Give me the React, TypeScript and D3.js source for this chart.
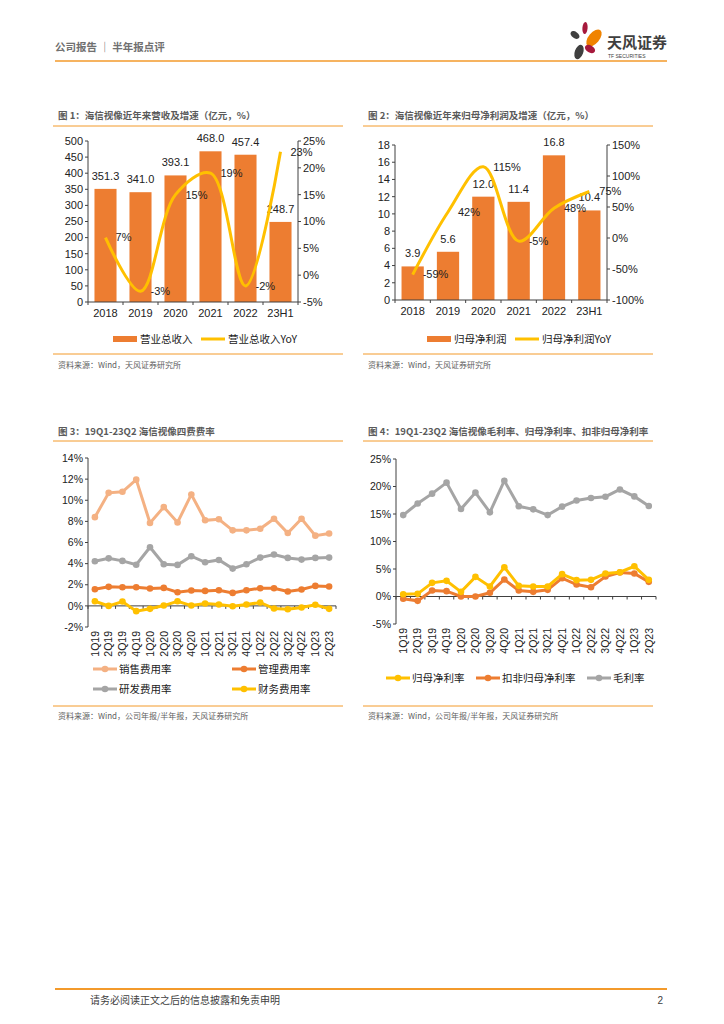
import * as d3 from 'd3';

// 图1 / 图2
const years = ['2018', '2019', '2020', '2021', '2022', '23H1'];
const revenue = [351.3, 341.0, 393.1, 468.0, 457.4, 248.7];
const revenueYoY = [7, -3, 15, 19, -2, 23];
const netProfit = [3.9, 5.6, 12.0, 11.4, 16.8, 10.4];
const netProfitYoY = [-59, 42, 115, -5, 48, 75];

// 图3 / 图4
const quarters = ['1Q19', '2Q19', '3Q19', '4Q19', '1Q20', '2Q20', '3Q20', '4Q20', '1Q21', '2Q21', '3Q21', '4Q21', '1Q22', '2Q22', '3Q22', '4Q22', '1Q23', '2Q23'];
const salesRate = [8.4, 10.7, 10.8, 11.95, 7.85, 9.35, 7.9, 10.55, 8.1, 8.2, 7.15, 7.15, 7.3, 8.25, 6.9, 8.25, 6.65, 6.85];
const mgmtRate = [1.58, 1.8, 1.77, 1.77, 1.64, 1.7, 1.29, 1.45, 1.42, 1.48, 1.23, 1.48, 1.67, 1.67, 1.36, 1.55, 1.89, 1.83];
const rdRate = [4.23, 4.5, 4.26, 3.9, 5.55, 3.94, 3.88, 4.7, 4.13, 4.35, 3.53, 3.94, 4.57, 4.86, 4.54, 4.38, 4.54, 4.57];
const finRate = [0.44, 0.0, 0.41, -0.5, -0.28, 0.03, 0.44, 0.03, 0.22, 0.13, -0.03, 0.13, 0.32, -0.25, -0.32, -0.16, 0.1, -0.28];
const grossMargin = [14.8, 16.9, 18.7, 20.7, 15.9, 18.9, 15.3, 21.05, 16.4, 15.85, 14.8, 16.35, 17.45, 17.9, 18.15, 19.45, 18.2, 16.45];
const netMargin = [0.42, 0.48, 2.48, 2.85, 0.85, 3.57, 1.82, 5.33, 1.94, 1.82, 1.82, 4.06, 2.97, 3.03, 4.18, 4.42, 5.5, 3.03];
const deductedMargin = [-0.42, -0.79, 1.09, 0.97, 0.0, 0.0, 0.67, 3.09, 1.09, 0.85, 1.21, 3.33, 2.18, 1.69, 3.63, 4.36, 4.18, 2.66];

const ORANGE = '#ED7D31';
const YELLOW = '#FFC000';
const SALMON = '#F4B183';
const GRAY = '#A5A5A5';
const RULE = '#F39A2B';
const FONT = '"Liberation Sans", "Noto Sans CJK SC", sans-serif';
const CJK = '"Noto Sans CJK SC", "Liberation Sans", sans-serif';

interface ComboProps {
  x0: number;
  title: string;
  left: number; right: number; top: number; bottom: number;
  bars: number[]; line: number[];
  leftDomain: [number, number]; leftStep: number;
  rightDomain: [number, number]; rightStep: number;
  barName: string; lineName: string;
  legendX: number;
}

function ComboChart(p: ComboProps) {
  const x = d3.scaleBand<string>().domain(years).range([p.left, p.right]).paddingInner(0.37).paddingOuter(0.185);
  const yL = d3.scaleLinear().domain(p.leftDomain).range([p.bottom, p.top]);
  const yR = d3.scaleLinear().domain(p.rightDomain).range([p.bottom, p.top]);
  const leftTicks = d3.range(p.leftDomain[0], p.leftDomain[1] + 0.001, p.leftStep);
  const rightTicks = d3.range(p.rightDomain[0], p.rightDomain[1] + 0.001, p.rightStep);
  const cx = (d: string) => (x(d) ?? 0) + x.bandwidth() / 2;
  const pts: [number, number][] = p.line.map((v, i) => [cx(years[i]), yR(v)]);
  const path = d3.line().curve(d3.curveCatmullRom.alpha(0.5))(pts) ?? '';
  const step = x.step();
  return (
    <g fontFamily={FONT}>
      <text x={p.x0 + 5} y={119} fontSize={9.5} fontWeight="bold" fill="#5a5a5a" fontFamily={CJK}>{p.title}</text>
      <line x1={p.x0} x2={p.x0 + 290} y1={126} y2={126} stroke={RULE} strokeWidth={1} />
      {/* bars */}
      {p.bars.map((v, i) => (
        <rect key={i} x={x(years[i])} y={yL(v)} width={x.bandwidth()} height={yL(0) - yL(v)} fill={ORANGE} />
      ))}
      {/* left axis */}
      <line x1={p.left} x2={p.left} y1={p.top} y2={p.bottom} stroke="#404040" />
      {leftTicks.map(t => (
        <g key={t}>
          <line x1={p.left - 3} x2={p.left} y1={yL(t)} y2={yL(t)} stroke="#404040" />
          <text x={p.left - 5} y={yL(t)} dy="0.35em" textAnchor="end" fontSize={11} fill="#222">{t}</text>
        </g>
      ))}
      {/* right axis */}
      <line x1={p.right} x2={p.right} y1={p.top} y2={p.bottom} stroke="#404040" />
      {rightTicks.map(t => (
        <g key={t}>
          <line x1={p.right} x2={p.right + 3} y1={yR(t)} y2={yR(t)} stroke="#404040" />
          <text x={p.right + 5} y={yR(t)} dy="0.35em" fontSize={11} fill="#222">{t}%</text>
        </g>
      ))}
      {/* bottom axis */}
      <line x1={p.left} x2={p.right} y1={p.bottom} y2={p.bottom} stroke="#404040" />
      {d3.range(years.length + 1).map(i => (
        <line key={i} x1={p.left + i * step} x2={p.left + i * step} y1={p.bottom} y2={p.bottom + 3} stroke="#404040" />
      ))}
      {years.map(d => (
        <text key={d} x={cx(d)} y={p.bottom + 15} textAnchor="middle" fontSize={11} fill="#222">{d}</text>
      ))}
      {/* bar labels */}
      {p.bars.map((v, i) => (
        <text key={i} x={cx(years[i])} y={yL(v) - 9} textAnchor="middle" fontSize={11} fill="#222">{v.toFixed(1)}</text>
      ))}
      {/* yoy line */}
      <path d={path} fill="none" stroke={YELLOW} strokeWidth={3} />
      {p.line.map((v, i) => (
        <text key={i} x={cx(years[i]) + 10} y={yR(v)} dy="0.35em" fontSize={11} fill="#222">{v}%</text>
      ))}
      {/* legend */}
      <rect x={p.legendX} y={336} width={24} height={6} fill={ORANGE} />
      <text x={p.legendX + 27} y={339} dy="0.35em" fontSize={10.5} fill="#222" fontFamily={CJK}>{p.barName}</text>
      <line x1={p.legendX + 88} x2={p.legendX + 112} y1={339} y2={339} stroke={YELLOW} strokeWidth={3} />
      <text x={p.legendX + 115} y={339} dy="0.35em" fontSize={10.5} fill="#222" fontFamily={CJK}>{p.lineName}</text>
      <line x1={p.x0} x2={p.x0 + 290} y1={354} y2={354} stroke={RULE} strokeWidth={1} />
      <text x={p.x0 + 5} y={368} fontSize={8} fill="#606060" fontFamily={CJK}>资料来源：Wind，天风证券研究所</text>
    </g>
  );
}

interface Series { name: string; values: number[]; color: string; lx: number; ly: number }

interface LineProps {
  x0: number;
  title: string;
  left: number; right: number; top: number; bottom: number;
  domain: [number, number]; step: number;
  series: Series[];
  source: string;
}

function LineChart(p: LineProps) {
  const x = d3.scaleBand<string>().domain(quarters).range([p.left, p.right]);
  const y = d3.scaleLinear().domain(p.domain).range([p.bottom, p.top]);
  const ticks = d3.range(p.domain[0], p.domain[1] + 0.001, p.step);
  const cx = (d: string) => (x(d) ?? 0) + x.bandwidth() / 2;
  const line = d3.line<number>().x((_, i) => cx(quarters[i])).y(v => y(v));
  const y0 = y(0);
  return (
    <g fontFamily={FONT}>
      <text x={p.x0 + 5} y={435} fontSize={9.5} fontWeight="bold" fill="#5a5a5a" fontFamily={CJK}>{p.title}</text>
      <line x1={p.x0} x2={p.x0 + 290} y1={441} y2={441} stroke={RULE} strokeWidth={1} />
      <line x1={p.left} x2={p.left} y1={p.top} y2={p.bottom} stroke="#404040" />
      {ticks.map(t => (
        <g key={t}>
          <line x1={p.left - 3} x2={p.left} y1={y(t)} y2={y(t)} stroke="#404040" />
          <text x={p.left - 5} y={y(t)} dy="0.35em" textAnchor="end" fontSize={10.5} fill="#222">{t}%</text>
        </g>
      ))}
      <line x1={p.left} x2={p.right} y1={y0} y2={y0} stroke="#404040" />
      {d3.range(quarters.length + 1).map(i => (
        <line key={i} x1={p.left + i * x.step()} x2={p.left + i * x.step()} y1={y0} y2={y0 + 3} stroke="#404040" />
      ))}
      {quarters.map(q => (
        <text key={q} transform={`translate(${cx(q) + 3.8},${p.bottom + 4}) rotate(-90)`} textAnchor="end" fontSize={10.5} fill="#222">{q}</text>
      ))}
      {p.series.map(s => (
        <g key={s.name}>
          <path d={line(s.values) ?? ''} fill="none" stroke={s.color} strokeWidth={3} />
          {s.values.map((v, i) => (
            <circle key={i} cx={cx(quarters[i])} cy={y(v)} r={3.3} fill={s.color} />
          ))}
          <line x1={s.lx} x2={s.lx + 24} y1={s.ly} y2={s.ly} stroke={s.color} strokeWidth={3} />
          <circle cx={s.lx + 12} cy={s.ly} r={3.3} fill={s.color} />
          <text x={s.lx + 26} y={s.ly} dy="0.35em" fontSize={10.5} fill="#222" fontFamily={CJK}>{s.name}</text>
        </g>
      ))}
      <line x1={p.x0} x2={p.x0 + 290} y1={706} y2={706} stroke={RULE} strokeWidth={1} />
      <text x={p.x0 + 5} y={719} fontSize={8} fill="#606060" fontFamily={CJK}>{p.source}</text>
    </g>
  );
}

function Logo() {
  return (
    <g>
      <ellipse cx={585} cy={28} rx={2.6} ry={6} fill="#A6193C" transform="rotate(5 585 28)" />
      <ellipse cx={575} cy={35} rx={5} ry={3.2} fill="#3F3F3F" transform="rotate(35 575 35)" />
      <ellipse cx={594} cy={38} rx={5.5} ry={10} fill="#F08300" transform="rotate(40 594 38)" />
      <ellipse cx={579} cy={52} rx={4.2} ry={7.5} fill="#3F3F3F" transform="rotate(20 579 52)" />
      <ellipse cx={590} cy={49} rx={5.5} ry={3.6} fill="#A6193C" transform="rotate(30 590 49)" />
      <text x={607} y={48} fontSize={15} fontWeight="bold" fill="#3F3F3F" fontFamily={CJK}>天风证券</text>
      <text x={608} y={58} fontSize={5} fill="#3F3F3F" fontFamily={FONT}>TF SECURITIES</text>
    </g>
  );
}

export default function App() {
  return (
    <svg width={724} height={1024} style={{ position: 'absolute', left: 0, top: 0, background: '#fff' }}>
      <text x={55} y={51} fontSize={10.5} fill="#707070" fontFamily={CJK} fontWeight="bold">公司报告 ｜ 半年报点评</text>
      <Logo />
      <line x1={55} x2={667} y1={61} y2={61} stroke={RULE} strokeWidth={1.5} />

      <ComboChart x0={53} title="图 1：海信视像近年来营收及增速（亿元，%）"
        left={88} right={298} top={141} bottom={302}
        bars={revenue} line={revenueYoY}
        leftDomain={[0, 500]} leftStep={50} rightDomain={[-5, 25]} rightStep={5}
        barName="营业总收入" lineName="营业总收入YoY" legendX={113} />
      <ComboChart x0={363} title="图 2：海信视像近年来归母净利润及增速（亿元，%）"
        left={395} right={607} top={145} bottom={300}
        bars={netProfit} line={netProfitYoY}
        leftDomain={[0, 18]} leftStep={2} rightDomain={[-100, 150]} rightStep={50}
        barName="归母净利润" lineName="归母净利润YoY" legendX={427} />

      <LineChart x0={53} title="图 3：19Q1-23Q2 海信视像四费费率"
        left={88} right={336} top={458} bottom={627}
        domain={[-2, 14]} step={2}
        series={[
          { name: '销售费用率', values: salesRate, color: SALMON, lx: 93, ly: 669 },
          { name: '管理费用率', values: mgmtRate, color: ORANGE, lx: 232, ly: 669 },
          { name: '研发费用率', values: rdRate, color: GRAY, lx: 93, ly: 689 },
          { name: '财务费用率', values: finRate, color: YELLOW, lx: 232, ly: 689 },
        ]}
        source="资料来源：Wind，公司年报/半年报，天风证券研究所" />
      <LineChart x0={363} title="图 4：19Q1-23Q2 海信视像毛利率、归母净利率、扣非归母净利率"
        left={396} right={656} top={459} bottom={624}
        domain={[-5, 25]} step={5}
        series={[
          { name: '毛利率', values: grossMargin, color: GRAY, lx: 587, ly: 678 },
          { name: '扣非归母净利率', values: deductedMargin, color: ORANGE, lx: 476, ly: 678 },
          { name: '归母净利率', values: netMargin, color: YELLOW, lx: 386, ly: 678 },
        ]}
        source="资料来源：Wind，公司年报/半年报，天风证券研究所" />

      <line x1={55} x2={667} y1={989} y2={989} stroke={RULE} strokeWidth={2} />
      <text x={90} y={1004} fontSize={10} fill="#404040" fontFamily={CJK}>请务必阅读正文之后的信息披露和免责申明</text>
      <text x={663} y={1004} fontSize={10} fill="#404040" textAnchor="end" fontFamily={FONT}>2</text>
    </svg>
  );
}
